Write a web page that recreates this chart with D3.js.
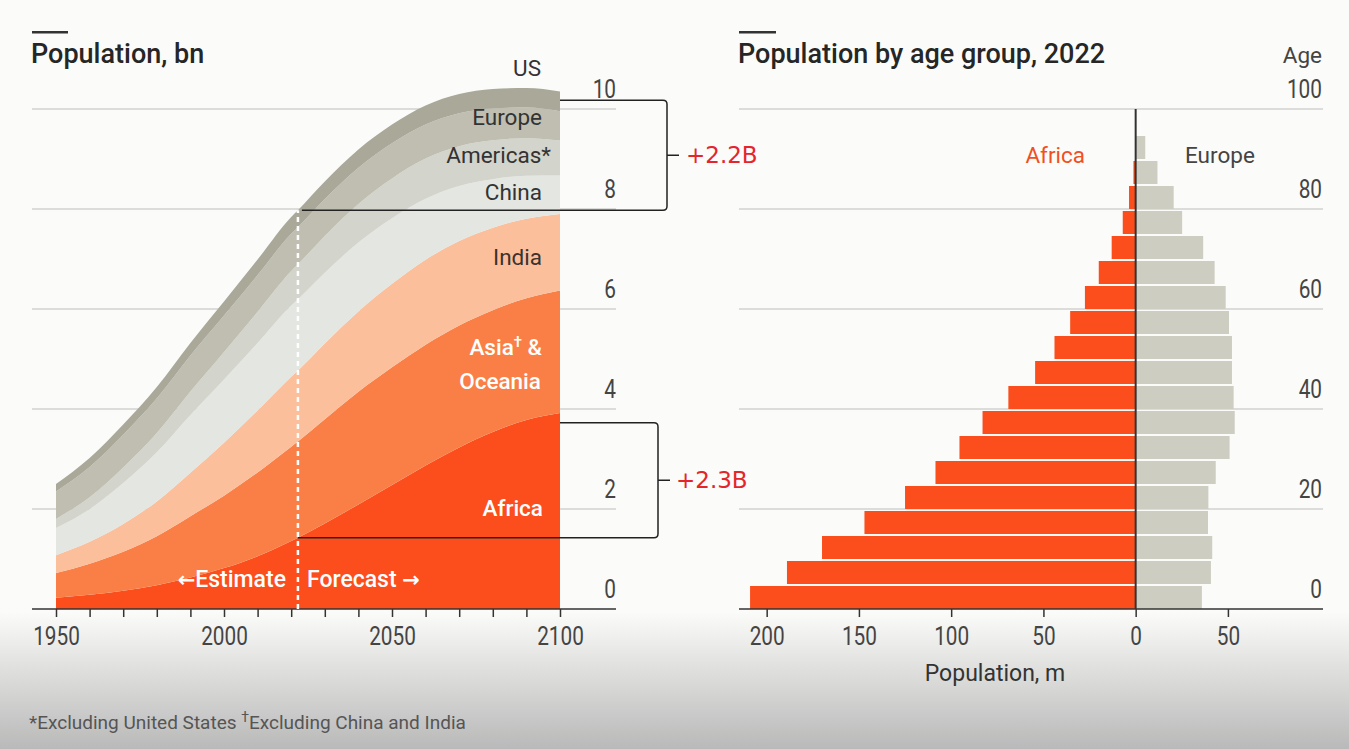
<!DOCTYPE html>
<html>
<head>
<meta charset="utf-8">
<script src="https://cdn.jsdelivr.net/npm/d3@7"></script>
<style>
  html, body { margin: 0; padding: 0; background: #fbfbf9; }
  svg { display: block; }
</style>
</head>
<body>
<svg id="chart" width="1349" height="749"></svg>
<script>
// ---- World population by region, bn (UN estimates to 2022, projections after) ----
const years       = [1950, 1960, 1970, 1980, 1990, 2000, 2010, 2020, 2022, 2030, 2040, 2050, 2060, 2070, 2080, 2090, 2100];
const africa      = [0.227, 0.283, 0.363, 0.477, 0.630, 0.818, 1.055, 1.360, 1.427, 1.710, 2.090, 2.480, 2.870, 3.230, 3.540, 3.780, 3.920];
const asiaOceania = [0.491, 0.624, 0.782, 0.978, 1.226, 1.447, 1.676, 1.887, 1.924, 2.085, 2.256, 2.354, 2.417, 2.441, 2.437, 2.435, 2.452];
const india       = [0.357, 0.436, 0.555, 0.697, 0.870, 1.060, 1.240, 1.396, 1.417, 1.515, 1.605, 1.670, 1.700, 1.690, 1.650, 1.590, 1.530];
const china       = [0.544, 0.654, 0.822, 0.982, 1.154, 1.264, 1.348, 1.425, 1.426, 1.416, 1.378, 1.313, 1.220, 1.100, 0.970, 0.860, 0.767];
const americas    = [0.183, 0.238, 0.308, 0.386, 0.471, 0.553, 0.625, 0.690, 0.699, 0.736, 0.771, 0.795, 0.802, 0.796, 0.778, 0.750, 0.701];
const europe      = [0.550, 0.606, 0.657, 0.694, 0.721, 0.726, 0.736, 0.746, 0.744, 0.736, 0.724, 0.703, 0.679, 0.657, 0.636, 0.613, 0.586];
const us          = [0.148, 0.179, 0.203, 0.226, 0.248, 0.282, 0.310, 0.336, 0.338, 0.352, 0.366, 0.375, 0.382, 0.386, 0.389, 0.392, 0.394];

const baseYear = 2022;
const yearTicks = [1950, 2000, 2050, 2100];
const popTicks = [0, 2, 4, 6, 8, 10];
// Growth to 2100: world total and Africa
const growthChange = [2.2, 2.3];

// ---- Population by five-year age group, 2022, m ----
const ageStart  = [0, 5, 10, 15, 20, 25, 30, 35, 40, 45, 50, 55, 60, 65, 70, 75, 80, 85, 90];
const africaAge = [209, 189, 170, 147, 125, 108.5, 95.5, 83, 69, 54.5, 44, 35.5, 27.5, 20, 13, 7, 3.6, 1.2, 0.3];
const europeAge = [35.9, 40.8, 41.5, 39.2, 39.4, 43.4, 50.9, 53.7, 53.1, 52.2, 52.2, 50.6, 48.8, 42.8, 36.6, 25.2, 20.6, 11.8, 5.2];
const ageTicks = [0, 20, 40, 60, 80, 100];
const popMTicks = [-200, -150, -100, -50, 0, 50];

// ---- styling ----
const FONT = "Roboto, 'Open Sans', sans-serif";
const NUM_SIZE = 26;
const NUM_SQUEEZE = "scale(0.8,1)";   // narrow figures
const INK = "#333";
const GRID = "#dcdcda";
const colors = {
  africa: "#fb4e1c",
  asiaOceania: "#fa7f47",
  india: "#fbbf9b",
  china: "#e3e6e1",
  americas: "#d3d4cb",
  europe: "#bfbeb1",
  us: "#a9a899"
};
const keys = ["africa", "asiaOceania", "india", "china", "americas", "europe", "us"];
const series = { africa, asiaOceania, india, china, americas, europe, us };

const svg = d3.select("#chart");

// soft grey shading along the bottom
const defs = svg.append("defs");
const grad = defs.append("linearGradient").attr("id", "foot").attr("x1", 0).attr("y1", 0).attr("x2", 0).attr("y2", 1);
grad.append("stop").attr("offset", 0).attr("stop-color", "#fbfbf9");
grad.append("stop").attr("offset", 1).attr("stop-color", "#b9b9b9");
svg.append("rect").attr("x", 0).attr("y", 612).attr("width", 1349).attr("height", 137).attr("fill", "url(#foot)");

// =================== LEFT: stacked area ===================
const xYear = d3.scaleLinear().domain([1950, 2100]).range([56, 560]);
const yPop = d3.scaleLinear().domain([0, 10]).range([609, 109]);

const left = svg.append("g");

// title
left.append("rect").attr("x", 32).attr("y", 31).attr("width", 36).attr("height", 2.5).attr("fill", INK);
left.append("text").attr("x", 31).attr("y", 63).attr("font-family", FONT).attr("font-size", 27)
  .attr("font-weight", 500).attr("fill", "#262626").text("Population, bn");

// gridlines
left.append("g").selectAll("line").data(popTicks.filter(d => d > 0)).join("line")
  .attr("x1", 32).attr("x2", 616).attr("y1", d => yPop(d)).attr("y2", d => yPop(d))
  .attr("stroke", GRID).attr("stroke-width", 2);

// stacked areas
const rows = years.map((yr, i) => {
  const r = { year: yr };
  keys.forEach(k => { r[k] = series[k][i]; });
  return r;
});
const stacked = d3.stack().keys(keys)(rows);
const area = d3.area()
  .x(d => xYear(d.data.year))
  .y0(d => yPop(d[0]))
  .y1(d => yPop(d[1]))
  .curve(d3.curveMonotoneX);
left.append("g").selectAll("path").data(stacked).join("path")
  .attr("d", area).attr("fill", d => colors[d.key]);

// y-axis labels (right side)
left.append("g").selectAll("text").data(popTicks).join("text")
  .attr("transform", d => `translate(616,${yPop(d) - 11}) ${NUM_SQUEEZE}`)
  .attr("text-anchor", "end")
  .attr("font-family", FONT).attr("font-size", NUM_SIZE).attr("fill", "#444").text(d => d);

// x axis
const xAxisL = d3.axisBottom(xYear).tickValues(d3.range(1950, 2101, 10)).tickSize(8)
  .tickFormat(d => yearTicks.includes(d) ? d : "");
const gxl = left.append("g").attr("transform", "translate(0,609)").call(xAxisL);
gxl.select(".domain").remove();
gxl.selectAll(".tick line").attr("stroke", INK).attr("stroke-width", 1.5);
gxl.selectAll(".tick text").attr("font-family", FONT).attr("font-size", NUM_SIZE).attr("fill", "#444")
  .attr("dy", "0.95em").attr("transform", NUM_SQUEEZE);
left.append("line").attr("x1", 32).attr("x2", 616).attr("y1", 609).attr("y2", 609).attr("stroke", INK).attr("stroke-width", 1.5);

// estimate / forecast divider
const i22 = years.indexOf(baseYear);
const world22 = d3.sum(keys, k => series[k][i22]);
const africa22 = africa[i22];
left.append("line")
  .attr("x1", xYear(baseYear)).attr("x2", xYear(baseYear))
  .attr("y1", yPop(0)).attr("y2", yPop(world22))
  .attr("stroke", "#fff").attr("stroke-width", 2.5).attr("stroke-dasharray", "5,4");

// region labels
const lab = (x, y, t, fill, anchor = "end", weight = 400) => left.append("text").attr("x", x).attr("y", y)
  .attr("text-anchor", anchor).attr("font-family", FONT).attr("font-size", 22.5)
  .attr("font-weight", weight).attr("fill", fill).text(t);
lab(541, 76, "US", INK);
lab(542, 125, "Europe", INK);
lab(551, 163, "Americas*", INK);
lab(542, 200, "China", INK);
lab(542, 265, "India", "#3a3330");
const asiaT = left.append("text").attr("x", 542).attr("y", 355).attr("text-anchor", "end")
  .attr("font-family", FONT).attr("font-size", 22.5).attr("font-weight", 500).attr("fill", "#fff");
asiaT.append("tspan").text("Asia");
asiaT.append("tspan").attr("font-size", 15).attr("dy", -8).text("†");
asiaT.append("tspan").attr("dy", 8).text(" &");
lab(541, 389, "Oceania", "#fff", "end", 500);
lab(543, 516, "Africa", "#fff", "end", 500);

const est = left.append("text").attr("x", 286).attr("y", 587).attr("text-anchor", "end")
  .attr("font-family", FONT).attr("font-size", 23).attr("font-weight", 500).attr("fill", "#fff");
est.append("tspan").attr("font-family", "'DejaVu Sans', sans-serif").attr("font-weight", 700).attr("font-size", 21).text("\u2190");
est.append("tspan").text("Estimate");
const fc = left.append("text").attr("x", 307).attr("y", 587)
  .attr("font-family", FONT).attr("font-size", 23).attr("font-weight", 500).attr("fill", "#fff");
fc.append("tspan").text("Forecast ");
fc.append("tspan").attr("font-family", "'DejaVu Sans', sans-serif").attr("font-weight", 700).attr("font-size", 21).text("\u2192");

// growth brackets
function bracket(g, xBottomStart, xTopStart, bx, vLow, vHigh, label, tx) {
  const y0 = yPop(vLow), y1 = yPop(vHigh), r = 4, ym = (y0 + y1) / 2;
  const p = d3.path();
  p.moveTo(xTopStart, y1);
  p.lineTo(bx - r, y1);
  p.quadraticCurveTo(bx, y1, bx, y1 + r);
  p.lineTo(bx, y0 - r);
  p.quadraticCurveTo(bx, y0, bx - r, y0);
  p.lineTo(xBottomStart, y0);
  p.moveTo(bx, ym);
  p.lineTo(bx + 12, ym);
  g.append("path").attr("d", p.toString()).attr("fill", "none").attr("stroke", "#222").attr("stroke-width", 1.5);
  g.append("text").attr("x", tx).attr("y", ym + 8).attr("font-family", "'DejaVu Sans', sans-serif")
    .attr("font-size", 23).attr("fill", "#e4262b").text(label);
}
const fmtB = v => "+" + d3.format(".1f")(v) + "B";
bracket(left, xYear(baseYear) + 4, xYear(2100), 667, world22, world22 + growthChange[0], fmtB(growthChange[0]), 686);
bracket(left, xYear(baseYear), xYear(2100), 658, africa22, africa22 + growthChange[1], fmtB(growthChange[1]), 676);

// =================== RIGHT: age pyramid ===================
const xM = d3.scaleLinear().domain([-215, 101]).range([739, 1322]);
const yAge = d3.scaleLinear().domain([0, 100]).range([609, 109]);
const right = svg.append("g");

right.append("rect").attr("x", 739).attr("y", 31).attr("width", 37).attr("height", 2.5).attr("fill", INK);
right.append("text").attr("x", 738).attr("y", 63).attr("font-family", FONT).attr("font-size", 27)
  .attr("font-weight", 500).attr("fill", "#262626").text("Population by age group, 2022");

right.append("g").selectAll("line").data(ageTicks.filter(d => d > 0)).join("line")
  .attr("x1", 739).attr("x2", 1323).attr("y1", d => yAge(d)).attr("y2", d => yAge(d))
  .attr("stroke", GRID).attr("stroke-width", 2);

right.append("text").attr("x", 1322).attr("y", 63).attr("text-anchor", "end")
  .attr("font-family", FONT).attr("font-size", 22.5).attr("fill", "#444").text("Age");
right.append("g").selectAll("text").data(ageTicks).join("text")
  .attr("transform", d => `translate(1322,${yAge(d) - 11}) ${NUM_SQUEEZE}`)
  .attr("text-anchor", "end")
  .attr("font-family", FONT).attr("font-size", NUM_SIZE).attr("fill", "#444").text(d => d);

const bandH = yAge(0) - yAge(5);
right.append("g").selectAll("rect").data(ageStart).join("rect")
  .attr("x", (d, i) => xM(-africaAge[i])).attr("width", (d, i) => xM(0) - xM(-africaAge[i]))
  .attr("y", d => yAge(d + 5) + 2).attr("height", bandH - 2).attr("fill", colors.africa);
right.append("g").selectAll("rect").data(ageStart).join("rect")
  .attr("x", xM(0)).attr("width", (d, i) => xM(europeAge[i]) - xM(0))
  .attr("y", d => yAge(d + 5) + 2).attr("height", bandH - 2).attr("fill", "#cdcdc2");

right.append("line").attr("x1", xM(0)).attr("x2", xM(0)).attr("y1", yAge(100)).attr("y2", yAge(0))
  .attr("stroke", "#333").attr("stroke-width", 2);

right.append("text").attr("x", 1085).attr("y", 163).attr("text-anchor", "end")
  .attr("font-family", FONT).attr("font-size", 22.5).attr("fill", "#f0501e").text("Africa");
right.append("text").attr("x", 1185).attr("y", 163)
  .attr("font-family", FONT).attr("font-size", 22.5).attr("fill", "#444").text("Europe");

const xAxisR = d3.axisBottom(xM).tickValues(popMTicks).tickSize(8).tickFormat(d => Math.abs(d));
const gxr = right.append("g").attr("transform", "translate(0,609)").call(xAxisR);
gxr.select(".domain").remove();
gxr.selectAll(".tick line").attr("stroke", INK).attr("stroke-width", 1.5);
gxr.selectAll(".tick text").attr("font-family", FONT).attr("font-size", NUM_SIZE).attr("fill", "#444")
  .attr("dy", "0.95em").attr("transform", NUM_SQUEEZE);
right.append("line").attr("x1", 739).attr("x2", 1323).attr("y1", 609).attr("y2", 609).attr("stroke", INK).attr("stroke-width", 1.5);

right.append("text").attr("x", 995).attr("y", 681).attr("text-anchor", "middle")
  .attr("font-family", FONT).attr("font-size", 23).attr("fill", "#333").text("Population, m");

// footnote
const foot = svg.append("text").attr("x", 29).attr("y", 729)
  .attr("font-family", FONT).attr("font-size", 19).attr("fill", "#555");
foot.append("tspan").text("*Excluding United States ");
foot.append("tspan").attr("font-size", 14).attr("dy", -7).text("†");
foot.append("tspan").attr("dy", 7).text("Excluding China and India");
</script>
</body>
</html>
